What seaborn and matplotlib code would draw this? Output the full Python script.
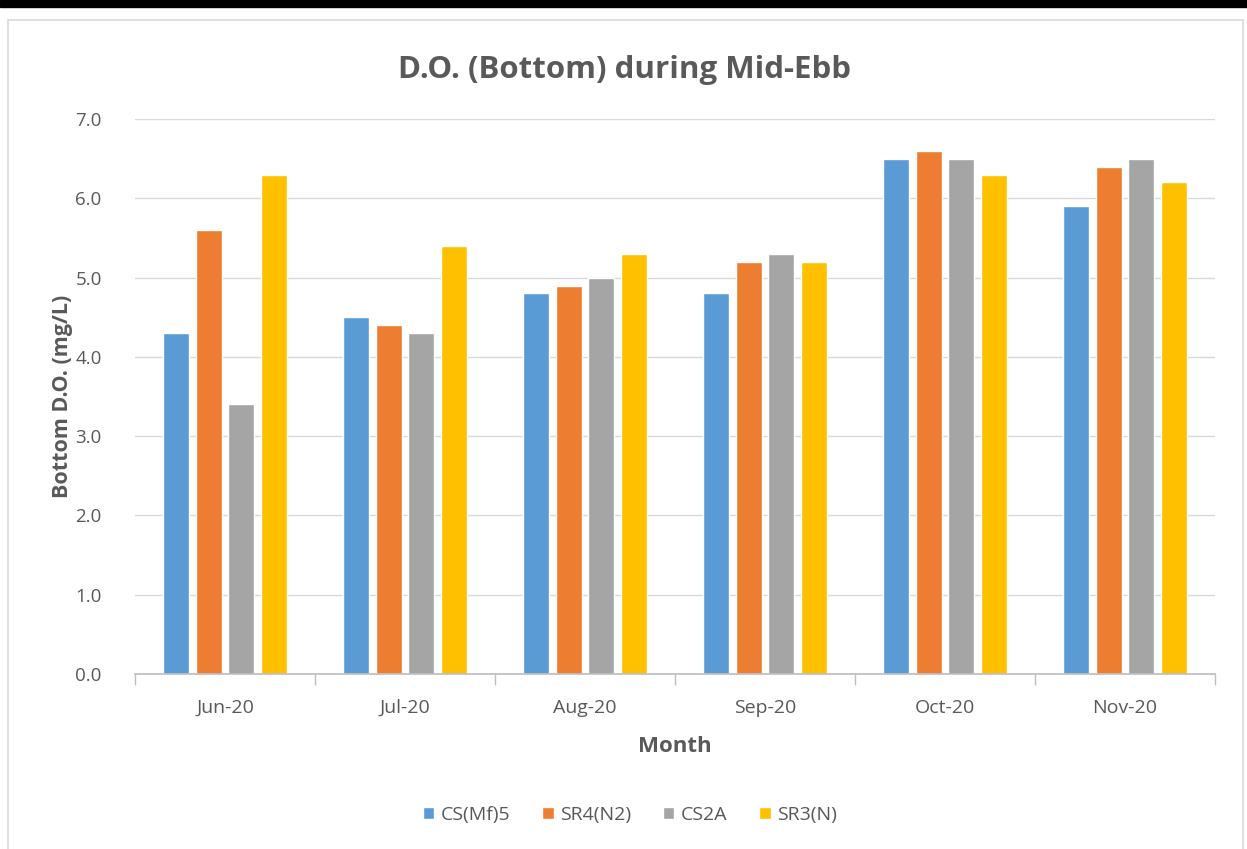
import pandas as pd
import matplotlib.pyplot as plt
import matplotlib.patches as mpatches
from matplotlib.ticker import FormatStrFormatter, FixedLocator
import seaborn as sns

# Datos
months = ["Jun-20", "Jul-20", "Aug-20", "Sep-20", "Oct-20", "Nov-20"]
stations = ["CS(Mf)5", "SR4(N2)", "CS2A", "SR3(N)"]
cs_mf5 = [4.3, 4.5, 4.8, 4.8, 6.5, 5.9]
sr4_n2 = [5.6, 4.4, 4.9, 5.2, 6.6, 6.4]
cs2a = [3.4, 4.3, 5.0, 5.3, 6.5, 6.5]
sr3_n = [6.3, 5.4, 5.3, 5.2, 6.3, 6.2]
colors = ["#5B9BD5", "#ED7D31", "#A5A5A5", "#FFC000"]

data = pd.DataFrame({
    "Month": months * 4,
    "Station": [s for s in stations for _ in months],
    "DO": cs_mf5 + sr4_n2 + cs2a + sr3_n,
})

sns.set_theme(style="white")
plt.rcParams["font.family"] = ["Open Sans", "DejaVu Sans"]
text_col = "#595959"

fig = plt.figure(figsize=(12.47, 8.49), dpi=100)
# borde negro superior y marco del grafico
fig.patches.append(mpatches.Rectangle((0, 1 - 7 / 849), 1, 7 / 849, transform=fig.transFigure,
                                      color="black", zorder=-10))
fig.patches.append(mpatches.Rectangle((8 / 1247, -0.01), 1235 / 1247, 1 - 20 / 849 + 0.01,
                                      transform=fig.transFigure, facecolor="white",
                                      edgecolor="#D9D9D9", lw=1.2, zorder=-10))

ax = fig.add_axes([135 / 1247, 1 - 674 / 849, 1080 / 1247, 555 / 849])
ax.patch.set_alpha(0)
sns.barplot(data=data, x="Month", y="DO", hue="Station", order=months, hue_order=stations,
            palette=colors, width=0.727, gap=0.2, saturation=1, ax=ax, legend=True)

ax.set_ylim(0, 7)
ax.set_xlim(-0.5, 5.5)
ax.set_yticks([i for i in range(8)])
ax.yaxis.set_major_formatter(FormatStrFormatter("%.1f"))
ax.grid(axis="y", color="#D9D9D9", lw=1)
ax.set_axisbelow(True)
for s in ["left", "right", "top"]:
    ax.spines[s].set_visible(False)
ax.spines["bottom"].set_color("#BFBFBF")
ax.xaxis.set_minor_locator(FixedLocator([i - 0.5 for i in range(7)]))
ax.tick_params(axis="x", which="major", length=0, pad=18, labelsize=14, labelcolor=text_col)
ax.tick_params(axis="x", which="minor", length=8, color="#BFBFBF", width=1, bottom=True)
ax.tick_params(axis="y", length=0, pad=24, labelsize=13.5, labelcolor=text_col)

ax.set_xlabel("Month", fontsize=16, fontweight="bold", color=text_col, labelpad=14)
ax.set_ylabel("Bottom D.O. (mg/L)", fontsize=15.5, fontweight="bold", color=text_col, labelpad=2)
fig.text(625 / 1247, 1 - 70 / 849, "D.O. (Bottom) during Mid-Ebb", ha="center", va="center",
         fontsize=22.5, fontweight="bold", color=text_col)

ax.legend(loc="center", bbox_to_anchor=((630 - 135) / 1080, (815 - 674) / -555), ncol=4,
          frameon=False, fontsize=14, labelcolor=text_col, handlelength=0.6, handleheight=0.6,
          handletextpad=0.35, columnspacing=1.6)

fig.savefig("out.png", dpi=100)
